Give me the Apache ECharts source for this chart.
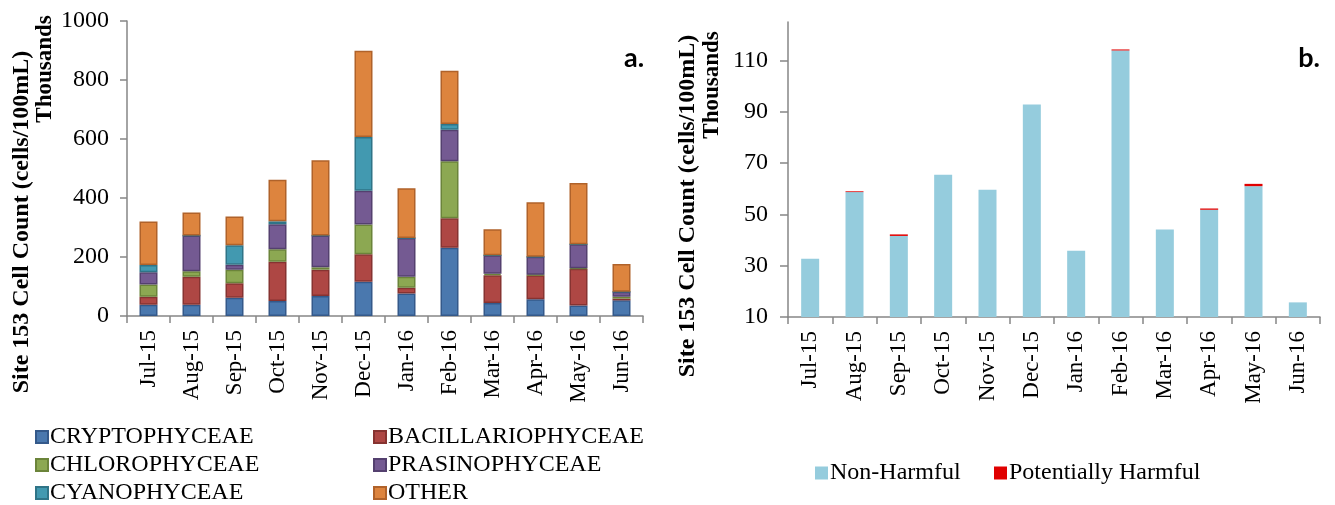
<!DOCTYPE html>
<html>
<head>
<meta charset="utf-8">
<script src="https://cdn.jsdelivr.net/npm/echarts@6/dist/echarts.min.js"></script>
<style>html,body{margin:0;padding:0;background:#fff;}#c{width:1335px;height:505px;}</style>
</head>
<body>
<div id="c"></div>
<script>
const categories = ['Jul-15','Aug-15','Sep-15','Oct-15','Nov-15','Dec-15','Jan-16','Feb-16','Mar-16','Apr-16','May-16','Jun-16'];
const cryptophyceae     = [38, 38, 62, 51, 68, 116, 76, 231, 44, 57, 36, 53];
const bacillariophyceae = [27, 95, 49, 133, 89, 93, 20, 100, 94, 81, 124, 6];
const chlorophyceae     = [42, 19, 46, 42, 8, 101, 37, 194, 5, 2, 2, 6];
const prasinophyceae    = [41, 121, 17, 85, 108, 115, 131, 106, 63, 61, 81, 17];
const cyanophyceae      = [25, 0, 66, 10, 0, 182, 0, 20, 0, 0, 0, 0];
const other             = [147, 78, 97, 141, 255, 292, 169, 180, 88, 185, 208, 94];
const nonHarmful        = [32.7, 58.7, 41.6, 65.5, 59.6, 92.8, 35.8, 113.9, 44.1, 51.8, 61.0, 15.7];
const potentiallyHarmful= [0, 0.3, 0.6, 0, 0, 0, 0, 0.4, 0, 0.5, 0.9, 0];
const leftTicks  = [0, 200, 400, 600, 800, 1000];
const rightTicks = [10, 30, 50, 70, 90, 110];

const serif = 'Liberation Serif';
const axisColor = '#868686';

function groupSeries(name, data, fill, border) {
  return {
    name: name, type: 'bar', stack: 'a', xAxisIndex: 0, yAxisIndex: 0,
    data: data, barWidth: 18,
    itemStyle: { color: fill, borderColor: border, borderWidth: 1.5 }
  };
}
function legendItem(name, left, centerY, size, fs) {
  return {
    orient: 'horizontal', left: left, top: centerY - fs / 2, itemWidth: size, itemHeight: size,
    data: [{ name: name, icon: 'rect' }], padding: 0,
    textStyle: { fontFamily: serif, fontSize: fs, color: '#000', lineHeight: fs, padding: [0, 0, 0, -3] }
  };
}

const chart = echarts.init(document.getElementById('c'), null, { renderer: 'canvas' });
const option = {
  backgroundColor: '#fff',
  animation: false,
  grid: [
    { left: 127, top: 21, width: 516, height: 295, containLabel: false },
    { left: 788, top: 22, width: 532, height: 295, containLabel: false }
  ],
  xAxis: [
    {
      gridIndex: 0, type: 'category', data: categories, boundaryGap: true,
      axisLine: { lineStyle: { color: axisColor, width: 1.5 } },
      axisTick: { show: true, length: 7, lineStyle: { color: axisColor, width: 1.5 } },
      axisLabel: { rotate: 90, margin: 14, color: '#000', fontFamily: serif, fontSize: 23, interval: 0 }
    },
    {
      gridIndex: 1, type: 'category', data: categories, boundaryGap: true,
      axisLine: { lineStyle: { color: axisColor, width: 1.5 } },
      axisTick: { show: true, length: 7, lineStyle: { color: axisColor, width: 1.5 } },
      axisLabel: { rotate: 90, margin: 14, color: '#000', fontFamily: serif, fontSize: 23, interval: 0 }
    }
  ],
  yAxis: [
    {
      gridIndex: 0, type: 'value', min: 0, max: 1000, interval: 200,
      splitLine: { show: false },
      axisLine: { show: true, lineStyle: { color: axisColor, width: 1.5 } },
      axisTick: { show: true, length: 7, lineStyle: { color: axisColor, width: 1.5 }, customValues: leftTicks },
      axisLabel: { margin: 18, color: '#000', fontFamily: serif, fontSize: 24, customValues: leftTicks,
                   formatter: function (v) { return String(v); } }
    },
    {
      gridIndex: 1, type: 'value', min: 10, max: 125,
      splitLine: { show: false },
      axisLine: { show: true, lineStyle: { color: axisColor, width: 1.5 } },
      axisTick: { show: true, length: 8, lineStyle: { color: axisColor, width: 1.5 }, customValues: rightTicks },
      axisLabel: { margin: 20, color: '#000', fontFamily: serif, fontSize: 24, customValues: rightTicks,
                   formatter: function (v) { return String(v); } }
    }
  ],
  legend: [
    legendItem('CRYPTOPHYCEAE', 35, 437, 12, 24),
    legendItem('CHLOROPHYCEAE', 35, 465, 12, 24),
    legendItem('CYANOPHYCEAE', 35, 493, 12, 24),
    legendItem('BACILLARIOPHYCEAE', 373, 437, 12, 24),
    legendItem('PRASINOPHYCEAE', 373, 465, 12, 24),
    legendItem('OTHER', 373, 493, 12, 24),
    legendItem('Non-Harmful', 815, 473, 13, 24),
    legendItem('Potentially Harmful', 994, 473, 13, 24)
  ],
  graphic: [
    { type: 'text', x: 22, y: 222, rotation: Math.PI / 2,
      style: { text: 'Site 153 Cell Count (cells/100mL)', font: 'bold 24px "Liberation Serif"', fill: '#000', align: 'center', verticalAlign: 'middle' } },
    { type: 'text', x: 45, y: 69, rotation: Math.PI / 2,
      style: { text: 'Thousands', font: 'bold 23px "Liberation Serif"', fill: '#000', align: 'center', verticalAlign: 'middle' } },
    { type: 'text', x: 688, y: 206, rotation: Math.PI / 2,
      style: { text: 'Site 153 Cell Count (cells/100mL)', font: 'bold 24px "Liberation Serif"', fill: '#000', align: 'center', verticalAlign: 'middle' } },
    { type: 'text', x: 712, y: 85, rotation: Math.PI / 2,
      style: { text: 'Thousands', font: 'bold 23px "Liberation Serif"', fill: '#000', align: 'center', verticalAlign: 'middle' } },
    { type: 'text', x: 634, y: 58,
      style: { text: 'a.', font: 'bold 27px Lato', fill: '#000', align: 'center', verticalAlign: 'middle' } },
    { type: 'text', x: 1309, y: 58,
      style: { text: 'b.', font: 'bold 27px Lato', fill: '#000', align: 'center', verticalAlign: 'middle' } }
  ],
  series: [
    groupSeries('CRYPTOPHYCEAE', cryptophyceae, '#4A78AE', '#34598A'),
    groupSeries('BACILLARIOPHYCEAE', bacillariophyceae, '#AE4744', '#863331'),
    groupSeries('CHLOROPHYCEAE', chlorophyceae, '#8CA852', '#6B843A'),
    groupSeries('PRASINOPHYCEAE', prasinophyceae, '#745A92', '#54406F'),
    groupSeries('CYANOPHYCEAE', cyanophyceae, '#4299B0', '#2F7487'),
    groupSeries('OTHER', other, '#DD843E', '#B0622A'),
    {
      name: 'Non-Harmful', type: 'bar', stack: 'b', xAxisIndex: 1, yAxisIndex: 1,
      data: nonHarmful, barWidth: 18,
      itemStyle: { color: '#95CCDD' }
    },
    {
      name: 'Potentially Harmful', type: 'bar', stack: 'b', xAxisIndex: 1, yAxisIndex: 1,
      data: potentiallyHarmful, barWidth: 18,
      itemStyle: { color: '#E00000' }
    }
  ]
};
chart.setOption(option);
</script>
</body>
</html>
